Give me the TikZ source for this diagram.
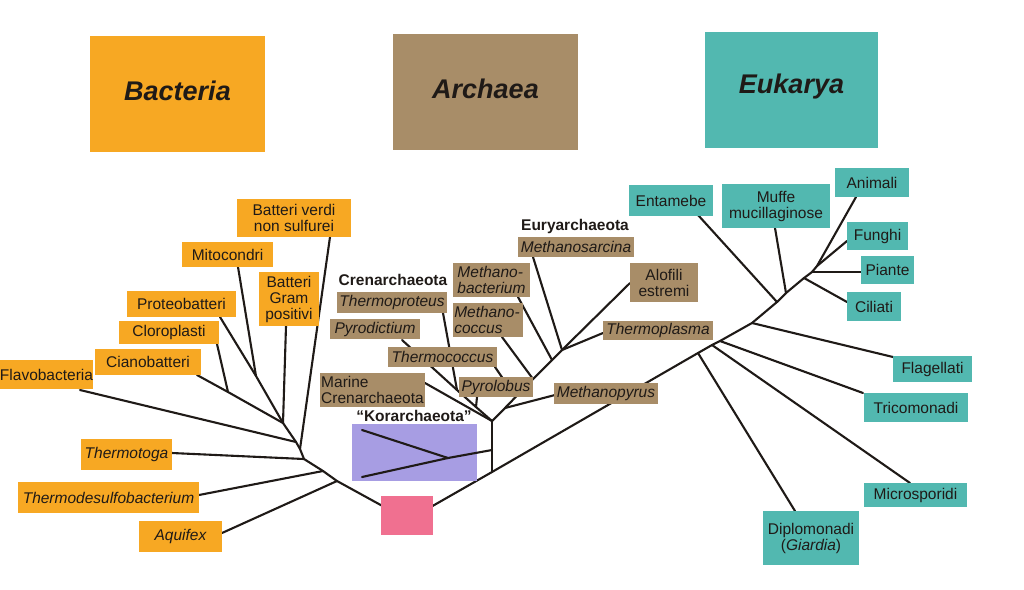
\documentclass[tikz,border=0pt]{standalone}
\usepackage{fontspec}
\setmainfont{Liberation Sans}
\usetikzlibrary{fit}
\definecolor{bact}{HTML}{F7A823}
\definecolor{arch}{HTML}{A88D68}
\definecolor{euk}{HTML}{52B8B0}
\definecolor{kor}{HTML}{A79DE3}
\definecolor{rootc}{HTML}{F07090}
\definecolor{ink}{HTML}{1F1A17}
\pgfdeclarelayer{bg}
\pgfsetlayers{bg,main}
\begin{document}
\begin{tikzpicture}[x=1pt,y=-1pt,
 box/.style={inner sep=0pt, outer sep=0pt},
 bb/.style={box, fill=bact}, ab/.style={box, fill=arch}, eb/.style={box, fill=euk},
 t/.style={inner sep=0pt, outer sep=0pt, text=ink, align=center, font=\fontsize{15.5}{16}\selectfont},
 ti/.style={t, font=\fontsize{15.5}{16}\selectfont\itshape},
 tl/.style={t, align=left},
 til/.style={ti, align=left},
 hd/.style={inner sep=0pt, outer sep=0pt, text=ink, font=\fontsize{27}{30}\selectfont\bfseries\itshape},
 grp/.style={text=ink, inner sep=0pt, font=\fontsize{15.5}{16}\selectfont\bfseries},
 br/.style={draw=ink, line width=2.1pt, line cap=round, line join=round}]
\useasboundingbox (0,0) rectangle (1024,589);

% headers
\node[box, fill=bact, fit={(90,36) (265,152)}, label={[hd, yshift=3pt]center:Bacteria}] (hb) {};
\node[box, fill=arch, fit={(393,34) (578,150)}, label={[hd, yshift=3pt]center:Archaea}] (ha) {};
\node[box, fill=euk, fit={(705,32) (878,148)}, label={[hd, yshift=3pt]center:Eukarya}] (he) {};

% bacteria
\node[bb, fit={(237,199) (351,237)}, label={[t]center:{Batteri verdi\\non sulfurei}}] (verdi) {};
\node[bb, fit={(182,242) (273,267)}, label={[t]center:Mitocondri}] (mito) {};
\node[bb, fit={(259,272) (319,326)}, label={[t]center:{Batteri\\Gram\\positivi}}] (gram) {};
\node[bb, fit={(127,291) (236,317)}, label={[t]center:Proteobatteri}] (proteo) {};
\node[bb, fit={(119,321) (219,344)}, label={[t]center:Cloroplasti}] (cloro) {};
\node[bb, fit={(95,349) (201,375)}, label={[t]center:Cianobatteri}] (ciano) {};
\node[bb, fit={(-10,360) (93,389)}, label={[t, xshift=5pt]center:Flavobacteria}] (flavo) {};
\node[bb, fit={(81,439) (172,470)}, label={[ti]center:Thermotoga}] (ttoga) {};
\node[bb, fit={(18,482) (199,513)}, label={[ti]center:Thermodesulfobacterium}] (tdesulfo) {};
\node[bb, fit={(139,521) (222,552)}, label={[ti]center:Aquifex}] (aquifex) {};

% root and Korarchaeota
\node[box, fill=rootc, fit={(381,496) (433,535)}] (rootbox) {};
\node[box, fill=kor, fit={(352,424) (477,481)}] (korbox) {};
\node[grp] (korlab) at (414,416) {“Korarchaeota”};

% archaea
\node[grp] (crenlab) at (393,280) {Crenarchaeota};
\node[grp] (eurylab) at (575,226) {Euryarchaeota};
\node[ab, fit={(337,292) (447,313)}, label={[ti]center:Thermoproteus}] (tproteus) {};
\node[ab, fit={(330,319) (420,339)}, label={[ti]center:Pyrodictium}] (pyrod) {};
\node[ab, fit={(388,347) (497,367)}, label={[ti]center:Thermococcus}] (tcoccus) {};
\node[ab, fit={(320,373) (425,407)}, label={[tl]center:{Marine\\Crenarchaeota}}] (marine) {};
\node[ab, fit={(459,377) (533,397)}, label={[ti]center:Pyrolobus}] (pyrolobus) {};
\node[ab, fit={(453,263) (530,297)}, label={[til]center:{Methano-\\bacterium}}] (mbact) {};
\node[ab, fit={(453,303) (523,337)}, label={[til, xshift=-1pt]center:{Methano-\\coccus}}] (mcoccus) {};
\node[ab, fit={(518,237) (634,257)}, label={[ti]center:Methanosarcina}] (msarc) {};
\node[ab, fit={(630,263) (698,302)}, label={[t]center:{Alofili\\estremi}}] (alof) {};
\node[ab, fit={(603,321) (713,340)}, label={[ti]center:Thermoplasma}] (tplasma) {};
\node[ab, fit={(554,383) (658,404)}, label={[ti]center:Methanopyrus}] (mpyrus) {};

% eukarya
\node[eb, fit={(629,185) (713,216)}, label={[t]center:Entamebe}] (ent) {};
\node[eb, fit={(722,184) (830,228)}, label={[t]center:{Muffe\\mucillaginose}}] (muffe) {};
\node[eb, fit={(835,168) (909,197)}, label={[t]center:Animali}] (anim) {};
\node[eb, fit={(847,222) (908,250)}, label={[t]center:Funghi}] (fung) {};
\node[eb, fit={(861,256) (914,284)}, label={[t]center:Piante}] (piante) {};
\node[eb, fit={(847,292) (901,321)}, label={[t]center:Ciliati}] (cil) {};
\node[eb, fit={(893,356) (972,382)}, label={[t]center:Flagellati}] (flag) {};
\node[eb, fit={(864,393) (968,422)}, label={[t]center:Tricomonadi}] (trico) {};
\node[eb, fit={(864,483) (967,507)}, label={[t]center:Microsporidi}] (micro) {};
\node[eb, fit={(763,511) (859,565)}, label={[t]center:{Diplomonadi\\(\textit{Giardia})}}] (diplo) {};

% branch points and attachment points
\coordinate (R) at (408,520); \coordinate (Rs) at (408,533);
\coordinate (B1) at (337,481); \coordinate (B2) at (323,471);
\coordinate (B3) at (304,459); \coordinate (B4) at (300,449);
\coordinate (B5) at (296,442); \coordinate (B6) at (283,423);
\coordinate (B7) at (256,376); \coordinate (B8) at (228,392);
\coordinate (aMito) at (238,267); \coordinate (aVerdi) at (330,237);
\coordinate (aGram) at (286,326); \coordinate (aProteo) at (220,317);
\coordinate (aCloro) at (217,344); \coordinate (aCiano) at (197,375);
\coordinate (aFlavo) at (80,390); \coordinate (aTtoga) at (172,453);
\coordinate (aTdesulfo) at (199,495); \coordinate (aAquifex) at (222,533);

\coordinate (K0) at (492,472); \coordinate (Kj) at (492,450);
\coordinate (A0) at (492,421); \coordinate (Ka) at (448,458);
\coordinate (Kt) at (362,430); \coordinate (Kb) at (362,477);

\coordinate (aMarine) at (425,383); \coordinate (C1) at (476,407);
\coordinate (C2) at (457,390); \coordinate (aPyrod) at (402,340);
\coordinate (aTproteus) at (443,313); \coordinate (aPyrolobus) at (477,397);
\coordinate (aTcoccus) at (495,367); \coordinate (Tcend) at (508,386);

\coordinate (E1) at (505,408); \coordinate (E2) at (533,379);
\coordinate (E3) at (552,360); \coordinate (E4) at (562,350);
\coordinate (aMpyrus) at (555,395); \coordinate (aMcoccus) at (502,337);
\coordinate (aMbact) at (518,297); \coordinate (aMsarc) at (533,257);
\coordinate (aAlof) at (630,283); \coordinate (aTplasma) at (603,333);

\coordinate (D1) at (698,353); \coordinate (D2) at (712,345);
\coordinate (D3) at (720,341); \coordinate (D4) at (752,323);
\coordinate (D5) at (777,302); \coordinate (D6) at (786,293);
\coordinate (D7) at (804,278); \coordinate (D8) at (812,272);
\coordinate (D9) at (817,266);
\coordinate (aDiplo) at (795,511); \coordinate (aMicro) at (910,483);
\coordinate (aTrico) at (863,393); \coordinate (aFlag) at (893,357);
\coordinate (aEnt) at (698,215); \coordinate (aMuffe) at (775,228);
\coordinate (aCil) at (847,302); \coordinate (aPiante) at (861,272);
\coordinate (aFung) at (847,241); \coordinate (aAnim) at (856,197);

% korarchaeota (drawn over its box)
\draw[br] (Kt) -- (Ka) -- (Kj);
\draw[br] (Kb) -- (Ka);

\begin{pgfonlayer}{bg}
% root
\draw[br] (Rs) -- (R);
% bacteria
\draw[br] (R) -- (B1) -- (B2) -- (B3) -- (B4) -- (B5) -- (B6);
\draw[br] (aAquifex) -- (B1);
\draw[br] (aTdesulfo) -- (B2);
\draw[br] (aTtoga) -- (B3);
\draw[br] (aVerdi) -- (B4);
\draw[br] (aFlavo) -- (B5);
\draw[br] (aProteo) -- (B7) -- (B6);
\draw[br] (aMito) -- (B7);
\draw[br] (aGram) -- (B6);
\draw[br] (aCiano) -- (B8) -- (B6);
\draw[br] (aCloro) -- (B8);
% main stem
\draw[br] (R) -- (K0) -- (D1) -- (D2) -- (D3) -- (D4) -- (D5) -- (D6) -- (D7) -- (D8) -- (D9);
\draw[br] (K0) -- (Kj) -- (A0);
% crenarchaeota
\draw[br] (aMarine) -- (A0);
\draw[br] (aPyrod) -- (C2) -- (C1) -- (A0);
\draw[br] (aTproteus) -- (C2);
\draw[br] (aPyrolobus) -- (C1);
\draw[br] (aTcoccus) -- (Tcend);
% euryarchaeota
\draw[br] (A0) -- (E1) -- (E2) -- (E3) -- (E4);
\draw[br] (aMpyrus) -- (E1);
\draw[br] (aMcoccus) -- (E2);
\draw[br] (aMbact) -- (E3);
\draw[br] (aMsarc) -- (E4);
\draw[br] (aAlof) -- (E4);
\draw[br] (aTplasma) -- (E4);
% eukarya
\draw[br] (aDiplo) -- (D1);
\draw[br] (aMicro) -- (D2);
\draw[br] (aTrico) -- (D3);
\draw[br] (aFlag) -- (D4);
\draw[br] (aEnt) -- (D5);
\draw[br] (aMuffe) -- (D6);
\draw[br] (aCil) -- (D7);
\draw[br] (aPiante) -- (D8);
\draw[br] (aFung) -- (D9);
\draw[br] (aAnim) -- (D9);
\end{pgfonlayer}
\end{tikzpicture}
\end{document}
